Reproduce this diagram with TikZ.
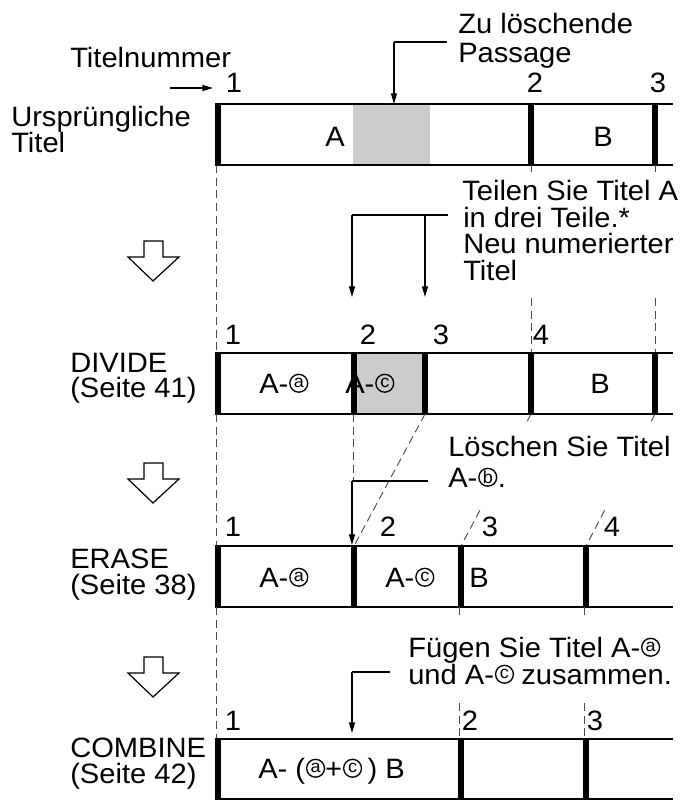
\documentclass[tikz,border=0pt]{standalone}
\usepackage{fontspec}
\setmainfont[FakeStretch=1.04]{Liberation Sans}
\usetikzlibrary{arrows.meta,calc}
\tikzset{
  txt/.style={font=\fontsize{21}{20}\selectfont, inner sep=0pt},
  lbl/.style={txt, anchor=base west},
  num/.style={txt, anchor=base},
  bar/.style={line width=4.5pt},
  rowline/.style={line width=1pt},
  dsh/.style={dash pattern=on 6pt off 3.5pt, line width=0.7pt, black!70},
  lead/.style={line width=0.8pt},
  arr/.style={lead, -{Triangle[length=8pt,width=4.5pt]}},
  bigarrow/.style={draw, line width=0.9pt, fill=white},
  grayfill/.style={fill=black!20},
  cletter/.style={inner sep=0pt, anchor=center, font=\fontsize{13}{13}\selectfont},
  cring/.style={line width=1pt},
  aftc/.style={txt, anchor=base west}
}
% circled letter #3 after text node #2; centre coordinate named #1
\newcommand\circafter[3]{%
  \coordinate (#1) at ([xshift=7.6pt,yshift=7.3pt]#2.base east);
  \node[cletter] (#1-l) at (#1) {#3};
  \draw[cring] (#1) circle[radius=6.7pt];}
\begin{document}
\begin{tikzpicture}[x=0.75pt,y=-0.75pt]
\useasboundingbox (0,0) rectangle (682,804);

% ---------- Row 1: original titles ----------
\fill[grayfill] (353,104) rectangle (430,165);
\draw[rowline] (215,104) -- (673,104) (215,165) -- (673,165);
\draw[bar] (218,104) -- (218,165) (531,104) -- (531,165) (655,104) -- (655,165);
\node[lbl] (titelnr) at (70,67) {Titelnummer};
\coordinate (tnA) at (170,88);
\node[num] (r1n1) at (234,92) {1};
\draw[arr] (tnA) -- (213,88);
\node[num] (r1n2) at (535,92) {2};
\node[num] (r1n3) at (658,92) {3};
\node[lbl] (urs1) at (11,126) {Ursprüngliche};
\node[lbl] (urs2) at (11,152) {Titel};
\node[num] (r1A) at (335,146) {A};
\node[num] (r1B) at (603,146) {B};
\node[lbl] (zu1) at (458,33) {Zu löschende};
\node[lbl] (zu2) at (458,62) {Passage};
\coordinate (zuL) at (447,42);
\coordinate (zuC) at (394,42);
\coordinate (zuT) at (394,104);
\draw[lead] (zuL) -- (zuC);
\draw[arr] (zuC) -- (zuT);

% ---------- dashed row1 -> row2 ----------
\draw[dsh] (216,165) -- (216,353);
\draw[dsh] (531,165) -- (531,172) (531,298) -- (531,353);
\draw[dsh] (655,165) -- (655,172) (655,298) -- (655,353);

% ---------- big arrows ----------
\draw[bigarrow] (144,241) -- (163,241) -- (163,257) -- (179,257) -- (153,281) -- (128,257) -- (144,257) -- cycle;
\draw[bigarrow] (144,463) -- (163,463) -- (163,479) -- (179,479) -- (153,503) -- (128,479) -- (144,479) -- cycle;
\draw[bigarrow] (144,657) -- (163,657) -- (163,673) -- (179,673) -- (153,697) -- (128,673) -- (144,673) -- cycle;

% ---------- Teilen annotation ----------
\node[lbl] (te1) at (462,200) {Teilen Sie Titel A};
\node[lbl] (te2) at (463,227) {in drei Teile.*};
\node[lbl] (te3) at (463,253) {Neu numerierter};
\node[lbl] (te4) at (463,280) {Titel};
\coordinate (teR) at (448,215);
\coordinate (teM) at (425,215);
\coordinate (teL) at (352,215);
\draw[lead] (teR) -- (teL);
\draw[arr] (teL) -- (352,297);
\draw[arr] (teM) -- (425,297);

% ---------- Row 2: DIVIDE ----------
\fill[grayfill] (354,353) rectangle (425,414);
\draw[rowline] (215,353) -- (673,353) (215,414) -- (673,414);
\draw[bar] (218,353) -- (218,414) (354,353) -- (354,414) (425,353) -- (425,414) (531,353) -- (531,414) (655,353) -- (655,414);
\node[num] (r2n1) at (233,344) {1};
\node[num] (r2n2) at (368,344) {2};
\node[num] (r2n3) at (441,344) {3};
\node[num] (r2n4) at (541,344) {4};
\node[lbl] (div1) at (70,372) {DIVIDE};
\node[lbl] (div2) at (70,397) {(Seite 41)};
\node[lbl] (r2a) at (259,393) {A-};
\circafter{r2ac}{r2a}{a}
\node[lbl] (r2c) at (345,393) {A-};
\circafter{r2cc}{r2c}{c}
\node[num] (r2B) at (600,393) {B};

% ---------- dashed row2 -> row3 ----------
\draw[dsh] (216,414) -- (216,546);
\draw[dsh] (353,414) -- (353,481);
\draw[dsh] (425,414) -- (354,546);
\coordinate (d3a) at (531,414);
\coordinate (d3b) at (461,546);
\coordinate (d4a) at (655,414);
\coordinate (d4b) at (586,546);
\draw[dsh] (d3a) -- ($(d3a)!0.06!(d3b)$) ($(d3a)!0.73!(d3b)$) -- (d3b);
\draw[dsh] (d4a) -- ($(d4a)!0.07!(d4b)$) ($(d4a)!0.73!(d4b)$) -- (d4b);

% ---------- Loeschen annotation ----------
\node[lbl] (lo1) at (448,456) {Löschen Sie Titel};
\node[lbl] (lo2) at (448,487) {A-};
\circafter{lo2c}{lo2}{b}
\node[aftc] (lo2d) at ([xshift=7.4pt,yshift=-7.3pt]lo2c) {.};
\coordinate (loR) at (428,481);
\coordinate (loL) at (352,481);
\draw[lead] (loR) -- (loL);
\draw[arr] (loL) -- (352,545);

% ---------- Row 3: ERASE ----------
\draw[rowline] (215,546) -- (673,546) (215,607) -- (673,607);
\draw[bar] (218,546) -- (218,607) (354,546) -- (354,607) (461,546) -- (461,607) (586,546) -- (586,607);
\node[num] (r3n1) at (233,536) {1};
\node[num] (r3n2) at (388,536) {2};
\node[num] (r3n3) at (490,536) {3};
\node[num] (r3n4) at (612,536) {4};
\node[lbl] (er1) at (70,568) {ERASE};
\node[lbl] (er2) at (70,594) {(Seite 38)};
\node[lbl] (r3a) at (259,587) {A-};
\circafter{r3ac}{r3a}{a}
\node[lbl] (r3c) at (385,587) {A-};
\circafter{r3cc}{r3c}{c}
\node[num] (r3B) at (479,587) {B};

% ---------- dashed row3 -> row4 ----------
\draw[dsh] (216,607) -- (216,739);
\draw[dsh] (459,607) -- (459,617) (459,703) -- (459,739);
\draw[dsh] (584,607) -- (584,617) (584,703) -- (584,739);

% ---------- Fuegen annotation ----------
\node[lbl] (fu1) at (408,657) {Fügen Sie Titel A-};
\circafter{fu1c}{fu1}{a}
\node[lbl] (fu2) at (408,684) {und A-};
\circafter{fu2c}{fu2}{c}
\node[aftc] (fu2d) at ([xshift=12.5pt,yshift=-7.3pt]fu2c) {zusammen.};
\coordinate (fuR) at (390,672);
\coordinate (fuL) at (352,672);
\draw[line width=2pt] (fuR) -- (fuL);
\draw[arr] (fuL) -- (352,733);

% ---------- Row 4: COMBINE ----------
\draw[rowline] (215,739) -- (673,739) (215,799) -- (673,799);
\draw[bar] (218,739) -- (218,799) (461,739) -- (461,799) (586,739) -- (586,799);
\node[num] (r4n1) at (233,730) {1};
\node[num] (r4n2) at (470,730) {2};
\node[num] (r4n3) at (595,730) {3};
\node[lbl] (co1) at (70,757) {COMBINE};
\node[lbl] (co2) at (70,783) {(Seite 42)};
\node[lbl] (r4t1) at (258,778) {A- (};
\circafter{r4ca}{r4t1}{a}
\node[aftc] (r4t2) at ([xshift=7.0pt,yshift=-7.3pt]r4ca) {+};
\circafter{r4cc}{r4t2}{c}
\node[aftc] (r4t3) at ([xshift=11pt,yshift=-7.3pt]r4cc) {) B};
\end{tikzpicture}
\end{document}
